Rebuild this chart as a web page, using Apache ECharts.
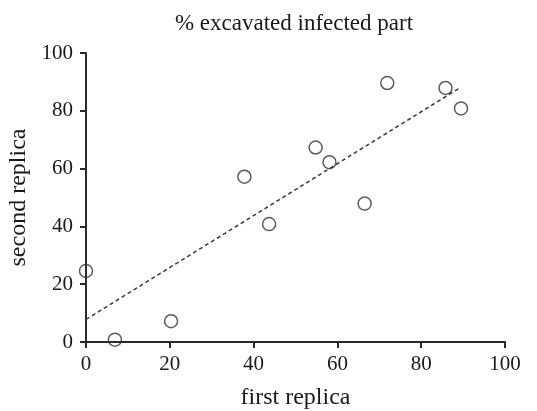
<!DOCTYPE html>
<html>
<head>
<meta charset="utf-8">
<script src="https://cdn.jsdelivr.net/npm/echarts@6/dist/echarts.min.js"></script>
<style>html,body{margin:0;padding:0;background:#fff;}#c{width:537px;height:411px;}</style>
</head>
<body>
<div id="c"></div>
<script>
var titleText = '% excavated infected part';
var xName = 'first replica';
var yName = 'second replica';
var firstReplica  = [0, 6.9, 20.3, 37.8, 43.7, 54.8, 58.1, 66.5, 71.9, 85.8, 89.5];
var secondReplica = [24.6, 0.8, 7.2, 57.2, 40.8, 67.3, 62.2, 47.9, 89.6, 87.9, 80.8];
var fitX = [0, 89.5];
var fitY = [7.8, 88.2];
var xTicks = [0, 20, 40, 60, 80, 100];
var yTicks = [0, 20, 40, 60, 80, 100];

var pts = firstReplica.map(function (x, i) { return [x, secondReplica[i]]; });
var fit = fitX.map(function (x, i) { return [x, fitY[i]]; });
var font = 'Liberation Serif';
var chart = echarts.init(document.getElementById('c'), null, {renderer: 'canvas'});
chart.setOption({
  animation: false,
  backgroundColor: '#fff',
  title: {
    text: titleText, left: 289, top: 7, textAlign: 'center',
    textStyle: {fontFamily: font, fontSize: 23, fontWeight: 'normal', color: '#1a1a1a'}
  },
  grid: {left: 86, right: 32, top: 53, bottom: 69, containLabel: false, outerBoundsMode: 'none'},
  xAxis: {
    type: 'value', min: xTicks[0], max: xTicks[xTicks.length - 1], interval: 20,
    name: xName, nameLocation: 'middle', nameGap: 44,
    nameTextStyle: {fontFamily: font, fontSize: 24, color: '#1a1a1a'},
    axisLine: {lineStyle: {color: '#2a2a2a', width: 2}},
    axisTick: {show: true, length: 6, lineStyle: {color: '#2a2a2a', width: 2}},
    axisLabel: {fontFamily: font, fontSize: 21, color: '#1a1a1a', margin: 12},
    splitLine: {show: false}
  },
  yAxis: {
    type: 'value', min: yTicks[0], max: yTicks[yTicks.length - 1], interval: 20,
    name: yName, nameLocation: 'middle', nameGap: 54,
    nameTextStyle: {fontFamily: font, fontSize: 24, color: '#1a1a1a'},
    axisLine: {show: true, lineStyle: {color: '#2a2a2a', width: 2}},
    axisTick: {show: true, length: 6, lineStyle: {color: '#2a2a2a', width: 2}},
    axisLabel: {fontFamily: font, fontSize: 21, color: '#1a1a1a', margin: 13},
    splitLine: {show: false}
  },
  series: [
    {
      type: 'line', data: fit, symbol: 'none', z: 1,
      lineStyle: {color: '#3a3a3a', width: 1.5, type: [4, 3]}
    },
    {
      type: 'scatter', data: pts, symbol: 'circle', symbolSize: 13, z: 3,
      itemStyle: {color: 'rgba(255,255,255,0)', borderColor: '#333', borderWidth: 1.5}
    }
  ]
});
</script>
</body>
</html>
